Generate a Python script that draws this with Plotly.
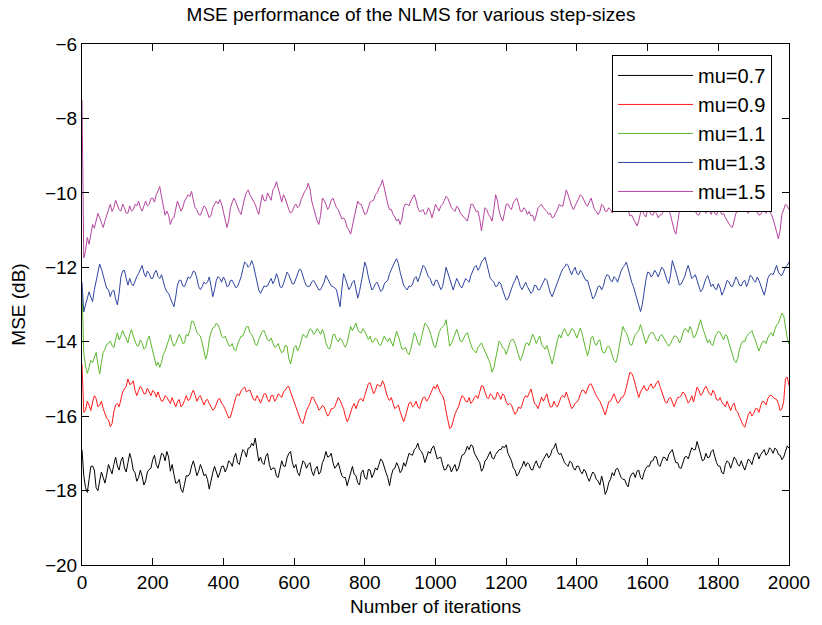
import plotly.graph_objects as go

# iteration grid: readings every 10 iterations plus the in-between readings (every 5)
iterations = list(range(0, 2001, 5))

# ---- mu = 0.7 (black) : values at 0,10,20,...,2000
mse_mu07 = [-16.9, -17.92, -17.70, -17.34, -17.92, -17.74, -17.65, -17.56, -17.43, -17.30, -17.34, -17.21, -17.39, -17.25, -17.17, -17.52, -17.65, -17.61, -17.74, -17.43, -17.17, -17.30, -17.21, -17.03, -16.95, -17.48,
 -17.56, -17.79, -17.96, -17.83, -17.61, -17.34, -17.39, -17.48, -17.43, -17.56, -17.96, -17.52, -17.48, -17.52, -17.34, -17.39, -17.25, -17.12, -17.25, -17.08, -16.95, -16.86, -16.73, -16.59, -17.21,
 -17.25, -17.08, -17.30, -17.39, -17.61, -17.39, -17.34, -17.12, -16.95, -17.39, -17.52, -17.39, -17.25, -17.30, -17.48, -17.43, -17.56, -17.25, -16.95, -17.08, -17.25, -17.34, -17.43, -17.65, -17.87,
 -17.48, -17.56, -17.79, -17.52, -17.65, -17.43, -17.65, -17.39, -17.30, -17.21, -17.52, -17.87, -17.43, -17.25, -17.52, -17.25, -17.17, -17.03, -16.90, -16.73, -16.95, -17.25, -16.95, -16.86, -16.99,
 -17.12, -17.30, -17.43, -17.34, -17.39, -17.48, -17.21, -17.03, -16.81, -16.77, -16.99, -17.17, -17.48, -17.21, -17.03, -17.12, -17.03, -16.90, -16.81, -16.77, -17.12, -17.39, -17.61, -17.43, -17.21,
 -17.25, -17.43, -17.30, -17.34, -17.25, -17.08, -17.12, -16.90, -16.73, -17.03, -17.12, -17.30, -17.21, -17.39, -17.34, -17.48, -17.43, -17.65, -17.61, -17.56, -17.74, -17.61, -18.10, -17.79, -17.52,
 -17.43, -17.52, -17.70, -17.83, -17.65, -17.52, -17.48, -17.65, -17.52, -17.34, -17.21, -17.08, -17.30, -17.21, -17.12, -17.03, -16.90, -17.25, -17.39, -17.25, -17.08, -16.99, -16.90, -16.68, -16.99,
 -17.17, -17.12, -16.95, -17.08, -17.34, -17.52, -17.30, -17.25, -17.25, -17.17, -17.34, -17.34, -17.30, -17.21, -17.12, -16.99, -17.03, -16.90, -16.99, -16.90, -16.86, -17.03, -17.17, -16.95, -16.86]
# values at 5,15,25,...,1995
mse_mu07_mid = [-17.6, -18.05, -17.35, -17.45, -18.0, -17.5, -17.8, -17.3, -17.55, -17.1, -17.45, -17.1, -17.5, -17.0, -17.45, -17.75, -17.45, -17.85, -17.5, -17.4, -17.05, -17.4, -17.0, -17.2, -17.1,
 -17.3, -17.8, -17.7, -18.05, -17.6, -17.55, -17.2, -17.6, -17.3, -17.6, -17.7, -17.7, -17.35, -17.65, -17.35, -17.5, -17.2, -17.35, -17.0, -17.3, -16.9, -17.1, -16.85, -16.8, -16.95,
 -17.1, -17.3, -17.0, -17.45, -17.4, -17.65, -17.2, -17.35, -17.0, -17.25, -17.3, -17.6, -17.2, -17.4, -17.25, -17.6, -17.35, -17.5, -17.15, -17.1, -17.0, -17.4, -17.25, -17.6, -17.65,
 -17.7, -17.35, -17.6, -17.85, -17.45, -17.7, -17.45, -17.55, -17.45, -17.15, -17.4, -17.65, -17.6, -17.4, -17.35, -17.45, -17.35, -17.0, -17.05, -16.85, -16.9, -17.05, -17.1, -17.0, -16.8,
 -17.15, -17.1, -17.45, -17.3, -17.5, -17.3, -17.4, -17.05, -16.95, -16.9, -16.8, -17.1, -17.25, -17.4, -17.15, -16.95, -17.15, -16.95, -16.9, -16.85, -17.0, -17.2, -17.45, -17.55, -17.35,
 -17.35, -17.3, -17.45, -17.2, -17.4, -17.15, -17.0, -17.05, -16.85, -16.95, -17.0, -17.25, -17.35, -17.25, -17.45, -17.35, -17.55, -17.5, -17.75, -17.5, -17.7, -17.85, -17.8, -18.0, -17.7,
 -17.6, -17.4, -17.65, -17.7, -17.9, -17.55, -17.65, -17.45, -17.7, -17.4, -17.35, -17.2, -17.1, -17.35, -17.1, -17.2, -16.95, -17.1, -17.25, -17.4, -17.1, -17.15, -16.85, -16.9, -16.85,
 -17.2, -17.0, -17.1, -16.9, -17.25, -17.35, -17.55, -17.2, -17.4, -17.1, -17.3, -17.2, -17.45, -17.15, -17.3, -17.0, -17.15, -16.95, -17.05, -16.85, -17.0, -16.9, -17.05, -17.1, -16.8]

# ---- mu = 0.9 (red)
mse_mu09 = [-14.6, -15.84, -15.71, -15.62, -15.53, -15.71, -15.80, -16.06, -16.28, -15.88, -15.66, -15.53, -15.27, -15.00, -15.13, -15.31, -15.31, -15.27, -15.40, -15.35, -15.31, -15.49, -15.49, -15.58, -15.49, -15.66,
 -15.62, -15.62, -15.75, -15.58, -15.58, -15.40, -15.44, -15.49, -15.58, -15.58, -15.66, -15.84, -15.66, -15.53, -15.71, -15.93, -16.02, -15.66, -15.40, -15.31, -15.22, -15.31, -15.44, -15.58, -15.53,
 -15.53, -15.40, -15.62, -15.44, -15.53, -15.44, -15.35, -15.22, -15.35, -15.66, -15.88, -16.15, -16.02, -15.75, -15.49, -15.62, -15.84, -15.71, -15.88, -15.93, -15.80, -15.62, -15.58, -15.80, -16.15,
 -15.88, -15.66, -15.66, -15.53, -15.44, -15.13, -15.27, -15.31, -15.18, -15.05, -15.35, -15.58, -15.66, -15.75, -15.88, -16.15, -15.80, -15.62, -15.71, -15.75, -15.62, -15.49, -15.53, -15.31, -15.27,
 -15.27, -15.44, -15.88, -16.33, -16.11, -15.84, -15.58, -15.49, -15.62, -15.66, -15.49, -15.53, -15.18, -15.35, -15.53, -15.44, -15.53, -15.44, -15.40, -15.62, -15.66, -15.84, -15.88, -15.80, -15.53,
 -15.49, -15.27, -15.66, -15.80, -15.49, -15.49, -15.62, -15.75, -15.71, -15.62, -15.44, -15.35, -15.66, -15.75, -15.62, -15.40, -15.31, -15.27, -15.13, -15.35, -15.53, -15.71, -15.97, -15.62, -15.49,
 -15.53, -15.62, -15.49, -15.22, -14.82, -14.96, -15.35, -15.35, -15.18, -15.31, -15.13, -15.22, -15.05, -15.35, -15.62, -15.53, -15.66, -15.62, -15.49, -15.35, -15.53, -15.58, -15.62, -15.22, -15.44,
 -15.27, -15.31, -15.44, -15.40, -15.58, -15.62, -15.75, -15.75, -15.71, -15.84, -16.02, -16.24, -16.11, -15.88, -15.93, -15.80, -15.71, -15.62, -15.53, -15.44, -15.53, -15.66, -15.80, -15.00, -15.18]
mse_mu09_mid = [-15.9, -15.6, -15.85, -15.45, -15.75, -15.6, -15.95, -16.1, -16.2, -15.7, -15.75, -15.35, -15.2, -15.15, -15.05, -15.45, -15.2, -15.4, -15.25, -15.45, -15.35, -15.35, -15.6, -15.45, -15.6,
 -15.5, -15.75, -15.55, -15.7, -15.45, -15.55, -15.3, -15.6, -15.45, -15.7, -15.55, -15.75, -15.8, -15.55, -15.65, -15.8, -16.05, -15.85, -15.5, -15.45, -15.25, -15.35, -15.3, -15.55, -15.45,
 -15.65, -15.4, -15.55, -15.45, -15.6, -15.4, -15.5, -15.3, -15.2, -15.5, -15.75, -16.05, -16.2, -15.85, -15.65, -15.5, -15.7, -15.8, -15.75, -16.0, -15.8, -15.75, -15.5, -15.7, -16.0,
 -16.05, -15.75, -15.8, -15.55, -15.6, -15.3, -15.1, -15.4, -15.15, -15.2, -15.15, -15.5, -15.5, -15.8, -15.7, -16.05, -16.0, -15.65, -15.75, -15.6, -15.8, -15.5, -15.6, -15.4, -15.2,
 -15.15, -15.4, -15.6, -16.15, -16.3, -15.95, -15.75, -15.45, -15.6, -15.5, -15.6, -15.45, -15.35, -15.2, -15.5, -15.4, -15.55, -15.35, -15.55, -15.45, -15.7, -15.7, -15.95, -15.75, -15.7,
 -15.45, -15.35, -15.45, -15.7, -15.65, -15.6, -15.4, -15.75, -15.6, -15.75, -15.5, -15.5, -15.5, -15.8, -15.65, -15.55, -15.3, -15.4, -15.15, -15.25, -15.45, -15.6, -15.85, -15.8, -15.6,
 -15.4, -15.65, -15.5, -15.4, -15.0, -14.85, -15.15, -15.5, -15.25, -15.3, -15.2, -15.25, -15.1, -15.2, -15.45, -15.65, -15.5, -15.75, -15.5, -15.45, -15.4, -15.65, -15.45, -15.45, -15.3,
 -15.4, -15.2, -15.4, -15.3, -15.55, -15.5, -15.7, -15.6, -15.85, -15.65, -15.9, -16.15, -16.3, -15.95, -16.0, -15.8, -15.9, -15.6, -15.7, -15.45, -15.5, -15.55, -15.85, -15.6, -14.95]

# ---- mu = 1.1 (green)
mse_mu11 = [-12.6, -14.65, -14.69, -14.56, -14.29, -14.87, -14.29, -14.07, -13.98, -14.16, -13.76, -13.85, -13.81, -14.03, -13.67, -13.98, -14.12, -14.03, -14.16, -13.85, -14.20, -14.65, -14.69, -14.34, -14.12, -13.81,
 -14.12, -13.94, -13.90, -14.03, -13.85, -13.45, -13.59, -13.81, -14.03, -14.47, -13.94, -13.63, -13.50, -13.67, -13.90, -13.98, -14.12, -14.20, -14.07, -13.85, -13.72, -13.59, -13.81, -14.07, -13.94,
 -13.72, -13.85, -13.98, -14.03, -14.12, -14.20, -14.25, -14.12, -14.60, -14.16, -14.25, -13.94, -13.85, -13.76, -13.69, -13.76, -13.72, -13.67, -14.03, -14.20, -13.81, -13.94, -13.90, -14.07, -14.03,
 -13.59, -13.59, -13.67, -13.76, -13.72, -13.94, -14.01, -13.90, -14.07, -13.98, -13.94, -13.90, -14.12, -13.72, -14.07, -14.20, -14.29, -14.20, -13.76, -14.03, -13.90, -13.50, -13.63, -13.94, -14.16,
 -13.76, -13.59, -13.41, -14.12, -13.94, -13.67, -13.98, -13.90, -13.76, -14.07, -14.25, -14.16, -14.03, -14.25, -14.47, -14.82, -14.43, -13.98, -14.16, -14.34, -14.03, -13.94, -14.20, -14.51, -14.20,
 -14.03, -13.94, -13.90, -13.94, -14.07, -14.20, -14.29, -14.60, -14.12, -13.81, -13.72, -13.76, -13.76, -13.67, -13.90, -13.63, -14.03, -14.38, -13.90, -14.03, -13.98, -14.20, -14.29, -14.12, -14.38,
 -14.56, -14.12, -13.59, -13.76, -14.07, -13.94, -13.76, -13.54, -13.90, -13.94, -13.76, -13.85, -13.98, -13.81, -13.98, -14.12, -13.94, -13.85, -14.03, -13.76, -13.67, -13.59, -13.90, -13.72, -13.41,
 -13.76, -14.03, -14.07, -13.90, -13.72, -13.85, -13.81, -14.03, -14.34, -14.56, -14.20, -13.98, -13.85, -13.76, -13.85, -14.12, -14.12, -13.98, -13.90, -13.76, -13.67, -13.50, -13.23, -13.67, -14.07]
mse_mu11_mid = [-14.3, -14.85, -14.5, -14.45, -14.6, -14.55, -14.2, -14.05, -14.1, -13.95, -13.95, -13.7, -13.95, -13.8, -13.85, -14.1, -13.95, -14.2, -13.95, -14.05, -14.45, -14.55, -14.55, -14.25, -13.95,
 -14.0, -14.05, -13.8, -14.05, -13.8, -13.7, -13.45, -13.75, -13.85, -14.3, -14.3, -13.75, -13.6, -13.55, -13.85, -13.85, -14.1, -14.05, -14.25, -13.95, -13.85, -13.6, -13.75, -13.9, -14.1,
 -13.85, -13.7, -13.95, -13.9, -14.15, -14.05, -14.3, -14.1, -14.45, -14.4, -14.1, -14.15, -13.8, -13.9, -13.65, -13.8, -13.65, -13.8, -13.8, -14.15, -14.05, -13.8, -14.0, -13.95, -14.15,
 -13.8, -13.7, -13.5, -13.75, -13.65, -13.85, -13.85, -14.0, -13.95, -14.1, -13.85, -14.0, -14.0, -13.9, -13.85, -14.2, -14.15, -14.35, -14.0, -13.85, -14.1, -13.7, -13.55, -13.75, -14.1,
 -13.95, -13.65, -13.55, -13.75, -14.05, -13.8, -13.8, -14.0, -13.8, -13.95, -14.2, -14.3, -14.1, -14.15, -14.35, -14.6, -14.7, -14.2, -14.05, -14.2, -14.2, -13.95, -14.05, -14.35, -14.4,
 -14.05, -14.1, -13.8, -14.05, -13.85, -14.15, -14.1, -14.45, -14.4, -13.95, -13.9, -13.65, -13.85, -13.65, -13.8, -13.75, -13.8, -14.2, -14.2, -13.85, -14.1, -13.95, -14.3, -14.15, -14.2,
 -14.5, -14.4, -13.85, -13.7, -13.9, -14.1, -13.8, -13.7, -13.7, -14.05, -13.8, -13.75, -13.95, -13.85, -13.9, -14.05, -14.05, -13.85, -13.9, -13.95, -13.65, -13.75, -13.7, -13.85, -13.55,
 -13.6, -13.9, -13.95, -14.1, -13.8, -13.75, -13.95, -13.85, -14.2, -14.5, -14.45, -14.05, -14.0, -13.8, -13.7, -13.95, -14.25, -14.0, -14.05, -13.8, -13.85, -13.55, -13.35, -13.3, -13.9]

# ---- mu = 1.3 (blue)
mse_mu13 = [-12.4, -13.01, -12.66, -12.92, -12.35, -11.91, -12.22, -12.57, -12.79, -12.61, -13.01, -12.26, -12.08, -12.48, -12.44, -12.35, -12.17, -11.95, -12.26, -12.17, -12.30, -12.08, -12.30, -12.39, -12.66, -12.83,
 -13.06, -12.48, -12.35, -12.52, -12.26, -12.22, -12.13, -12.52, -12.52, -12.44, -12.26, -12.79, -12.35, -12.30, -12.26, -12.52, -12.35, -12.44, -12.52, -12.26, -11.86, -12.00, -11.82, -12.17, -12.61,
 -12.61, -12.52, -12.39, -12.44, -12.17, -12.52, -12.44, -12.13, -12.35, -12.44, -12.17, -12.08, -12.39, -12.52, -12.39, -12.44, -12.61, -12.48, -12.22, -12.39, -12.52, -12.61, -13.06, -12.17, -12.44,
 -12.52, -12.35, -12.83, -12.44, -11.86, -12.26, -12.61, -12.44, -12.52, -12.61, -12.39, -12.17, -11.95, -11.77, -12.13, -12.48, -12.61, -12.52, -12.30, -12.39, -12.08, -12.00, -12.26, -12.44, -12.35,
 -12.48, -12.52, -12.00, -12.30, -12.61, -12.30, -12.52, -12.44, -12.35, -12.22, -12.00, -12.08, -11.86, -11.73, -12.13, -12.35, -12.52, -12.39, -12.61, -12.88, -12.70, -12.44, -12.22, -12.52, -12.48,
 -12.52, -12.70, -12.48, -12.61, -12.48, -12.30, -12.52, -12.79, -12.52, -12.26, -12.04, -11.91, -12.08, -12.08, -12.17, -12.08, -12.26, -12.35, -12.70, -12.79, -12.52, -12.61, -12.30, -12.22, -12.39,
 -12.30, -12.22, -12.00, -11.86, -12.26, -12.52, -12.88, -13.19, -12.61, -12.13, -12.26, -12.08, -12.26, -12.00, -12.22, -12.44, -11.82, -12.13, -12.48, -12.35, -12.08, -12.13, -12.26, -12.35, -12.66,
 -12.44, -12.22, -12.52, -12.57, -12.44, -12.75, -12.48, -12.39, -12.52, -12.26, -12.48, -12.39, -12.52, -12.22, -12.35, -12.26, -12.48, -12.75, -12.30, -12.17, -12.08, -12.13, -12.22, -12.00, -11.86]
mse_mu13_mid = [-13.2, -12.85, -12.8, -12.6, -12.15, -12.05, -12.45, -12.6, -12.65, -12.85, -12.7, -12.1, -12.3, -12.3, -12.5, -12.25, -12.05, -12.15, -12.1, -12.3, -12.15, -12.25, -12.2, -12.55, -12.7,
 -12.95, -12.8, -12.35, -12.5, -12.4, -12.3, -12.1, -12.3, -12.6, -12.4, -12.4, -12.5, -12.6, -12.25, -12.4, -12.35, -12.5, -12.35, -12.55, -12.4, -12.05, -11.9, -11.95, -11.95, -12.4,
 -12.7, -12.5, -12.5, -12.3, -12.35, -12.3, -12.55, -12.3, -12.2, -12.45, -12.3, -12.05, -12.25, -12.5, -12.5, -12.35, -12.5, -12.6, -12.4, -12.3, -12.5, -12.55, -12.85, -12.6, -12.3,
 -12.6, -12.4, -12.6, -12.65, -12.15, -12.0, -12.45, -12.55, -12.4, -12.65, -12.45, -12.35, -12.05, -11.85, -11.9, -12.3, -12.55, -12.5, -12.45, -12.25, -12.25, -11.95, -12.15, -12.3, -12.5,
 -12.35, -12.6, -12.2, -12.15, -12.5, -12.45, -12.4, -12.55, -12.3, -12.4, -12.1, -11.95, -12.0, -11.8, -11.9, -12.3, -12.4, -12.5, -12.45, -12.75, -12.85, -12.55, -12.35, -12.35, -12.6,
 -12.4, -12.6, -12.65, -12.5, -12.6, -12.4, -12.35, -12.7, -12.65, -12.4, -12.15, -12.0, -11.95, -12.2, -12.0, -12.2, -12.15, -12.35, -12.5, -12.85, -12.65, -12.5, -12.5, -12.2, -12.35,
 -12.25, -12.4, -12.1, -11.95, -12.05, -12.4, -12.7, -13.05, -13.0, -12.35, -12.15, -12.2, -12.15, -12.15, -12.05, -12.35, -12.2, -11.95, -12.3, -12.45, -12.25, -11.95, -12.3, -12.2, -12.5,
 -12.6, -12.3, -12.4, -12.45, -12.6, -12.55, -12.65, -12.35, -12.5, -12.4, -12.35, -12.5, -12.35, -12.4, -12.25, -12.4, -12.35, -12.6, -12.55, -12.2, -12.2, -11.95, -12.2, -12.1, -11.95]

# ---- mu = 1.5 (magenta)
mse_mu15 = [-7.5, -11.55, -11.38, -10.85, -10.76, -10.67, -10.93, -10.58, -10.31, -10.40, -10.31, -10.49, -10.40, -10.54, -10.49, -10.31, -10.22, -10.49, -10.22, -10.31, -10.14, -10.05, -9.83, -10.40, -10.49, -10.85,
 -10.67, -10.22, -10.49, -10.22, -10.05, -9.96, -10.40, -10.58, -10.49, -10.40, -10.67, -10.40, -10.22, -10.18, -10.49, -10.93, -10.40, -10.14, -10.40, -10.58, -10.14, -9.92, -10.14, -10.31, -10.58,
 -10.05, -10.22, -10.09, -9.92, -9.70, -10.05, -10.05, -10.31, -10.54, -10.36, -10.40, -10.18, -9.96, -9.74, -10.22, -10.58, -10.85, -10.14, -10.31, -10.36, -10.14, -10.40, -10.58, -10.67, -10.93,
 -11.11, -10.67, -10.22, -10.31, -10.58, -10.40, -10.22, -10.05, -9.87, -9.65, -10.14, -10.45, -10.58, -10.76, -10.85, -10.40, -10.31, -10.22, -10.05, -10.40, -10.49, -10.58, -10.40, -10.67, -10.31,
 -10.49, -10.31, -10.09, -10.31, -10.45, -10.36, -10.54, -10.67, -10.76, -10.31, -10.40, -10.49, -11.02, -10.40, -10.58, -10.76, -10.05, -10.49, -10.76, -10.31, -10.40, -10.27, -10.14, -10.49, -10.40,
 -10.58, -10.62, -10.76, -10.40, -10.31, -10.45, -10.58, -10.67, -10.54, -10.31, -10.36, -9.92, -10.22, -10.45, -10.22, -10.05, -10.22, -10.36, -10.14, -10.45, -10.58, -10.31, -10.49, -10.40, -10.54,
 -10.40, -10.36, -10.45, -10.31, -10.62, -10.71, -10.89, -10.54, -10.58, -10.45, -10.58, -10.49, -10.67, -10.58, -10.40, -10.45, -10.85, -11.11, -10.49, -10.40, -10.49, -10.40, -10.49, -10.58, -10.49,
 -10.49, -10.40, -10.58, -10.54, -10.45, -10.58, -10.67, -10.80, -10.93, -10.54, -10.45, -10.40, -10.49, -10.45, -10.40, -10.54, -10.58, -10.40, -10.45, -10.58, -10.85, -11.24, -10.58, -10.31, -10.45]
mse_mu15_mid = [-11.75, -11.2, -11.05, -10.95, -10.55, -10.8, -10.75, -10.45, -10.5, -10.2, -10.45, -10.3, -10.55, -10.35, -10.45, -10.35, -10.4, -10.35, -10.35, -10.15, -10.25, -9.95, -10.1, -10.6, -10.6,
 -10.7, -10.45, -10.35, -10.4, -10.15, -10.1, -10.2, -10.45, -10.6, -10.35, -10.55, -10.6, -10.3, -10.3, -10.3, -10.7, -10.75, -10.25, -10.25, -10.5, -10.35, -10.0, -10.05, -10.25, -10.45,
 -10.3, -10.2, -10.0, -10.2, -9.85, -9.85, -10.25, -10.15, -10.45, -10.5, -10.3, -10.35, -10.05, -9.9, -9.9, -10.4, -10.75, -10.6, -10.2, -10.45, -10.2, -10.3, -10.45, -10.7, -10.75,
 -11.0, -10.9, -10.5, -10.3, -10.45, -10.55, -10.25, -10.2, -10.0, -9.8, -9.9, -10.3, -10.45, -10.65, -10.7, -10.7, -10.3, -10.35, -10.15, -10.2, -10.5, -10.45, -10.55, -10.5, -10.5,
 -10.4, -10.35, -10.2, -10.15, -10.4, -10.5, -10.4, -10.6, -10.7, -10.55, -10.3, -10.5, -10.7, -10.75, -10.45, -10.65, -10.45, -10.2, -10.65, -10.55, -10.3, -10.45, -10.2, -10.3, -10.5,
 -10.45, -10.5, -10.6, -10.6, -10.35, -10.4, -10.5, -10.55, -10.65, -10.45, -10.35, -10.15, -10.05, -10.35, -10.35, -10.15, -10.1, -10.3, -10.25, -10.3, -10.5, -10.5, -10.35, -10.5, -10.45,
 -10.45, -10.3, -10.5, -10.4, -10.45, -10.6, -10.8, -10.75, -10.45, -10.65, -10.5, -10.6, -10.55, -10.6, -10.5, -10.35, -10.6, -11.0, -10.8, -10.45, -10.35, -10.5, -10.35, -10.5, -10.6,
 -10.4, -10.55, -10.45, -10.45, -10.6, -10.5, -10.55, -10.75, -10.9, -10.75, -10.5, -10.5, -10.35, -10.55, -10.5, -10.45, -10.6, -10.5, -10.55, -10.5, -10.7, -11.05, -11.0, -10.45, -10.35]

series_names = ["mu=0.7", "mu=0.9", "mu=1.1", "mu=1.3", "mu=1.5"]
series_main = [mse_mu07, mse_mu09, mse_mu11, mse_mu13, mse_mu15]
series_mid = [mse_mu07_mid, mse_mu09_mid, mse_mu11_mid, mse_mu13_mid, mse_mu15_mid]
series_colors = ["#000000", "#ff1a1a", "#5cb82e", "#2e45a0", "#b5449f"]

x_ticks = list(range(0, 2001, 200))
y_ticks = list(range(-20, -5, 2))

font_family = "Liberation Sans, Arial, sans-serif"


def merge(main, mid):
    out = []
    for i in range(len(main)):
        out.append(main[i])
        if i < len(mid):
            out.append(mid[i])
    return out


fig = go.Figure()
for name, vals, mids, col in zip(series_names, series_main, series_mid, series_colors):
    y = merge(vals, mids)
    n = min(len(y), len(iterations))
    fig.add_trace(go.Scatter(x=iterations[:n], y=y[:n], mode="lines", name=name,
                             line=dict(color=col, width=1)))

axis_common = dict(showline=True, linecolor="black", linewidth=1, mirror="ticks",
                   ticks="inside", ticklen=7, tickcolor="black", showgrid=False,
                   zeroline=False, tickfont=dict(size=19, color="black", family=font_family))

fig.update_xaxes(range=[0, 2000], tickvals=x_ticks,
                 title=dict(text="Number of iterations", font=dict(size=19, color="black", family=font_family), standoff=7),
                 **axis_common)
fig.update_yaxes(range=[-20, -6], tickvals=y_ticks,
                 title=dict(text="MSE (dB)", font=dict(size=19, color="black", family=font_family), standoff=14),
                 **axis_common)

fig.update_layout(
    width=822, height=625,
    margin=dict(l=82, r=25, t=44, b=53),
    paper_bgcolor="white", plot_bgcolor="white",
    font=dict(family=font_family, size=19, color="black"),
    title=dict(text="MSE performance of the NLMS for various step-sizes", x=0.5, xanchor="center",
               y=0.988, yanchor="top", font=dict(size=19, color="black", family=font_family)),
    legend=dict(x=0.976, y=0.979, xanchor="right", yanchor="top", bgcolor="white",
                bordercolor="black", borderwidth=1, font=dict(size=20, color="black", family=font_family),
                itemwidth=75),
    showlegend=True,
)

fig.write_html("out.html")
